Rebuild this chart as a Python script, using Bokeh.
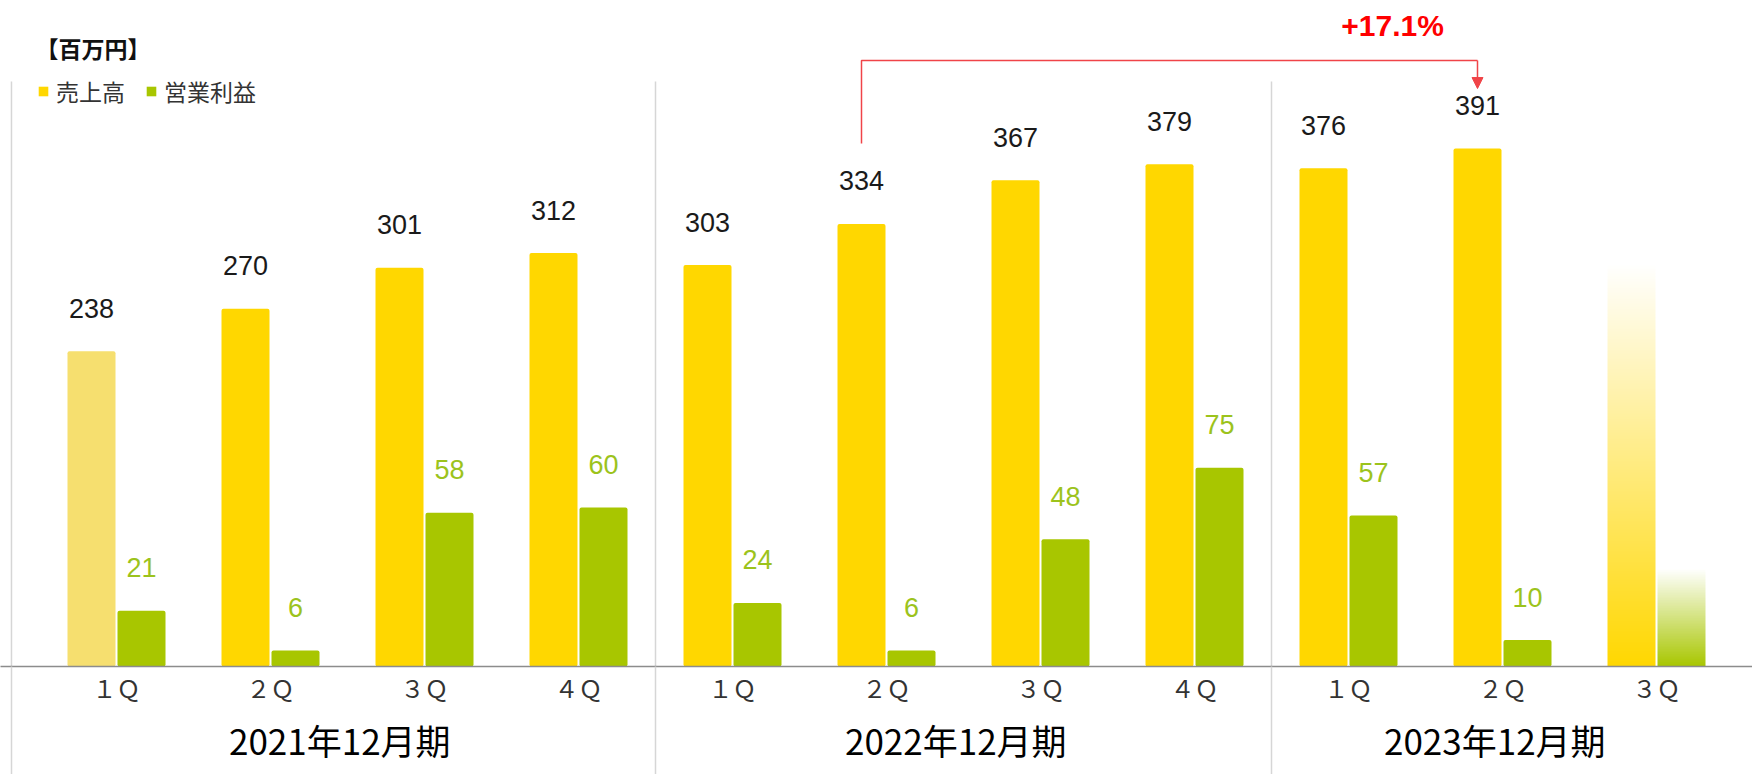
import numpy as np
from bokeh.plotting import figure
from bokeh.models import (Range1d, LinearAxis, FixedTicker, ColumnDataSource,
                          Legend, LegendItem, Label, NormalHead, Arrow)
from bokeh.core.properties import value
from bokeh.embed import file_html
from bokeh.resources import INLINE

# ---------------- data ----------------
fiscal_years = ["2021年12月期", "2022年12月期", "2023年12月期"]
quarters_per_year = [4, 4, 3]
quarter_labels = ["１Ｑ", "２Ｑ", "３Ｑ", "４Ｑ",
                  "１Ｑ", "２Ｑ", "３Ｑ", "４Ｑ",
                  "１Ｑ", "２Ｑ", "３Ｑ"]
sales = [238, 270, 301, 312, 303, 334, 367, 379, 376, 391]          # 売上高
op_profit = [21, 6, 58, 60, 24, 6, 48, 75, 57, 10]                  # 営業利益
# 2023年12月期 3Q : not yet reported, drawn as faded placeholder bars
placeholder_sales = 304
placeholder_profit = 37
growth_from, growth_to = 5, 9       # 2022 2Q -> 2023 2Q
unit_label = "【百万円】"
series_names = ["売上高", "営業利益"]

# ---------------- style ----------------
YELLOW = "#FFD700"
YELLOW_LIGHT = "#F6DF6F"
GREEN = "#A8C600"
GREEN_TEXT = "#9CC31C"
RED = "#F04448"
SEP = "#D6D6D6"
JP = "Noto Sans CJK JP"

W_FIG, H_FIG = 1752, 774
PX_PER_CAT = 154.0
X0_PX = 116.0
BOTTOM_PANEL = 108
FRAME_H = H_FIG - BOTTOM_PANEL
PX_PER_UNIT = 1.325
Y_MAX = FRAME_H / PX_PER_UNIT
OFF = 25 / PX_PER_CAT
BW = 48 / PX_PER_CAT

idx = np.arange(len(quarter_labels))
n = len(sales)

p = figure(width=W_FIG, height=H_FIG, output_backend="svg", toolbar_location=None,
           x_axis_type=None, y_axis_type=None,
           x_range=Range1d(-X0_PX / PX_PER_CAT, (W_FIG - X0_PX) / PX_PER_CAT),
           y_range=Range1d(0, Y_MAX))
p.extra_y_ranges = {"op": Range1d(0, Y_MAX / 2)}
p.min_border_left = 0
p.min_border_right = 0
p.min_border_top = 0
p.min_border_bottom = BOTTOM_PANEL
p.outline_line_color = None
p.grid.visible = False
p.background_fill_color = "white"
p.border_fill_color = "white"

# group separators (inside the plot area; continued below by axis minor ticks)
bounds = [-0.682]
acc = 0
for q in quarters_per_year[:-1]:
    acc += q
    bounds.append(acc - 0.5)
p.segment(x0=bounds, y0=[0] * len(bounds), x1=bounds, y1=[441.5] * len(bounds),
          line_color=SEP, line_width=1.5)

# sales bars
src_s = ColumnDataSource(dict(
    x=idx[:n] - OFF, top=sales,
    color=[YELLOW_LIGHT] + [YELLOW] * (n - 1),
    label=[str(v) for v in sales]))
r_sales = p.vbar(x="x", top="top", width=BW, fill_color="color", line_color=None,
                 source=src_s, border_radius=2)
p.text(x="x", y="top", text="label", source=src_s, text_align="center",
       text_baseline="middle", y_offset=-43, text_font=value("Liberation Sans"),
       text_font_size="27px", text_color="#1a1a1a")

# operating profit bars (secondary scale)
src_p = ColumnDataSource(dict(
    x=idx[:n] + OFF, top=op_profit, label=[str(v) for v in op_profit]))
r_prof = p.vbar(x="x", top="top", width=BW, fill_color=GREEN, line_color=None,
                source=src_p, y_range_name="op", border_radius=2)
p.text(x="x", y="top", text="label", source=src_p, text_align="center",
       text_baseline="middle", y_offset=-43, text_font=value("Liberation Sans"),
       text_font_size="27px", text_color=GREEN_TEXT, y_range_name="op")


# faded placeholder bars (vertical gradient)
def gradient(hex_color, rows=256):
    h = hex_color.lstrip("#")
    r, g, b = int(h[0:2], 16), int(h[2:4], 16), int(h[4:6], 16)
    img = np.zeros((rows, 1), dtype=np.uint32)
    view = img.view(dtype=np.uint8).reshape((rows, 1, 4))
    view[:, 0, 0] = r
    view[:, 0, 1] = g
    view[:, 0, 2] = b
    view[:, 0, 3] = np.linspace(255, 0, rows).astype(np.uint8)
    return img


ph = len(quarter_labels) - 1
p.image_rgba(image=[gradient(YELLOW)], x=ph - OFF - BW / 2, y=0, dw=BW,
             dh=placeholder_sales)
p.image_rgba(image=[gradient(GREEN)], x=ph + OFF - BW / 2, y=0, dw=BW,
             dh=placeholder_profit, y_range_name="op")

# growth bracket
xl = growth_from - OFF
xr = growth_to - OFF
y_top = 457.4
p.line(x=[xl, xl, xr], y=[394.7, y_top, y_top], line_color=RED, line_width=1.5)
p.add_layout(Arrow(x_start=xr, y_start=y_top, x_end=xr, y_end=436.2,
                   line_color=RED, line_width=1.5,
                   end=NormalHead(size=11, fill_color=RED, line_color=RED)))
growth = (sales[growth_to] / sales[growth_from] - 1) * 100
p.text(x=[8.286], y=[484.0], text=[f"+{growth:.1f}%"], text_align="center",
       text_baseline="middle", text_font=value("Liberation Sans"),
       text_font_style="bold", text_font_size="30px", text_color="#FF0000")

# unit label
p.add_layout(Label(x=35, y=FRAME_H - 47.5, x_units="screen", y_units="screen",
                   text=unit_label, text_font=JP, text_font_style="bold",
                   text_font_size="23px", text_color="#111111",
                   text_baseline="middle"))

# legend
legend = Legend(items=[LegendItem(label=series_names[0], renderers=[r_sales], index=1),
                       LegendItem(label=series_names[1], renderers=[r_prof])],
                orientation="horizontal", location=(37, 558),
                glyph_width=12, glyph_height=12, label_standoff=7, spacing=20,
                padding=0, margin=0, border_line_color=None,
                background_fill_alpha=0, label_text_font=JP,
                label_text_font_size="23px", label_text_color="#333333")
p.add_layout(legend)

# quarter axis (baseline); its long minor ticks continue the separators downwards
ax_q = LinearAxis(ticker=FixedTicker(ticks=[int(i) for i in idx], minor_ticks=bounds),
                  major_label_overrides={int(i): q for i, q in zip(idx, quarter_labels)})
ax_q.axis_line_color = "#8C8C8C"
ax_q.axis_line_width = 1.5
ax_q.major_tick_line_color = None
ax_q.major_tick_out = 0
ax_q.major_tick_in = 0
ax_q.minor_tick_line_color = SEP
ax_q.minor_tick_line_width = 1.5
ax_q.minor_tick_out = BOTTOM_PANEL
ax_q.minor_tick_in = 0
ax_q.major_label_text_font = JP
ax_q.major_label_text_font_size = "24px"
ax_q.major_label_text_color = "#333333"
ax_q.major_label_standoff = 3 - BOTTOM_PANEL
p.add_layout(ax_q, "below")

# fiscal year axis
centers = []
start = 0
for q in quarters_per_year:
    centers.append(start + (q - 1) / 2 - 0.05)
    start += q
ax_y = LinearAxis(ticker=FixedTicker(ticks=centers, minor_ticks=[]),
                  major_label_overrides={c: fy for c, fy in zip(centers, fiscal_years)})
ax_y.axis_line_color = None
ax_y.major_tick_line_color = None
ax_y.minor_tick_line_color = None
ax_y.major_tick_out = 0
ax_y.major_tick_in = 0
ax_y.minor_tick_out = 0
ax_y.major_label_text_font = JP
ax_y.major_label_text_font_size = "35px"
ax_y.major_label_text_color = "#000000"
ax_y.major_label_standoff = 6
p.add_layout(ax_y, "below")

open("out.html", "w").write(file_html(p, INLINE))
